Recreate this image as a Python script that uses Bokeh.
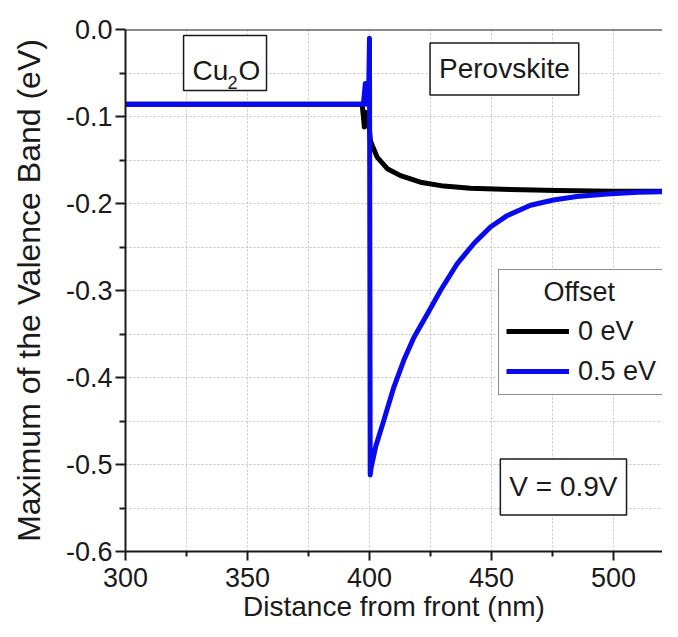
import math
from bokeh.plotting import figure
from bokeh.models import (Range1d, Legend, LegendItem, Label, BoxAnnotation, Span,
                          PrintfTickFormatter, FixedTicker)
from bokeh.embed import file_html
from bokeh.resources import INLINE

# ---- data ----
x_off0 = [300, 397, 397.5, 397.9, 398.3, 399.5, 400.4, 401.1, 403.2, 407.3, 412.7, 420.9,
          430.4, 441.4, 457.8, 476.9, 500, 527]
y_off0 = [-0.086, -0.086, -0.100, -0.112, -0.095, -0.100, -0.128, -0.133, -0.147, -0.160,
          -0.168, -0.1755, -0.180, -0.1824, -0.184, -0.185, -0.186, -0.186]

x_off05 = [300, 397.5, 398.3, 398.8, 399.6, 400, 400.3, 400.6, 402.5, 405.9, 410.0, 414.1,
           418.2, 423.7, 429.1, 436.0, 442.8, 449.6, 456.4, 466.0, 475.4, 485, 497.5, 510, 527]
y_off05 = [-0.086, -0.086, -0.062, -0.086, -0.086, -0.010, -0.512, -0.505, -0.480, -0.449,
           -0.411, -0.380, -0.354, -0.327, -0.300, -0.269, -0.246, -0.227, -0.214, -0.202,
           -0.196, -0.192, -0.189, -0.187, -0.186]

series_labels = ["0 eV", "0.5 eV"]
x_ticks = [300, 350, 400, 450, 500]
x_minor = [325, 375, 425, 475, 525]
y_ticks = [-0.6, -0.5, -0.4, -0.3, -0.2, -0.1, 0.0]
y_minor = [-0.55, -0.45, -0.35, -0.25, -0.15, -0.05]

FONT = "Liberation Sans"
TXT = "#1a1a1a"

p = figure(width=662, height=629, output_backend="svg", toolbar_location=None,
           x_range=Range1d(300, 520.1), y_range=Range1d(-0.6, 0.0),
           min_border_left=125, min_border_right=0, min_border_top=29, min_border_bottom=78)
p.outline_line_color = None
p.background_fill_color = "white"

# axes
for ax in (p.xaxis[0], p.yaxis[0]):
    ax.axis_line_width = 2
    ax.axis_line_color = "#1a1a1a"
    ax.major_tick_line_width = 2
    ax.major_tick_line_color = "#1a1a1a"
    ax.minor_tick_line_width = 2
    ax.minor_tick_line_color = "#1a1a1a"
    ax.major_tick_in = 0
    ax.minor_tick_in = 0
    ax.major_label_text_font = FONT
    ax.major_label_text_font_size = "27px"
    ax.major_label_text_color = TXT
    ax.axis_label_text_font = FONT
    ax.axis_label_text_font_style = "normal"
    ax.axis_label_text_color = TXT

p.xaxis.ticker = FixedTicker(ticks=x_ticks, minor_ticks=x_minor)
p.yaxis.ticker = FixedTicker(ticks=y_ticks, minor_ticks=y_minor)
p.yaxis.formatter = PrintfTickFormatter(format="%.1f")
p.xaxis.major_tick_out = 9
p.xaxis.minor_tick_out = 5
p.yaxis.major_tick_out = 10
p.yaxis.minor_tick_out = 6
p.xaxis.major_label_standoff = 7
p.yaxis.major_label_standoff = 3

p.xaxis.axis_label = "Distance from front (nm)"
p.xaxis.axis_label_text_font_size = "28px"
p.xaxis.axis_label_standoff = 1
p.yaxis.axis_label = "Maximum of the Valence Band (eV)"
p.yaxis.axis_label_text_font_size = "32px"
p.yaxis.axis_label_standoff = 16

# grids
for g in (p.xgrid[0], p.ygrid[0]):
    g.grid_line_color = "#c4c4c4"
    g.grid_line_dash = "2 2"
    g.grid_line_width = 1
    g.minor_grid_line_color = "#c4c4c4"
    g.minor_grid_line_dash = "2 2"
    g.minor_grid_line_width = 1

# top frame line
p.add_layout(Span(location=0.0, dimension="width", line_color="#1a1a1a", line_width=2))

# curves
r0 = p.line(x_off0, y_off0, line_color="black", line_width=5, line_join="round")
r1 = p.line(x_off05, y_off05, line_color="#0a0aee", line_width=5, line_join="round")

legend = Legend(items=[LegendItem(label=series_labels[0], renderers=[r0]),
                       LegendItem(label=series_labels[1], renderers=[r1])],
                title="\u00a0\u00a0\u00a0\u00a0\u00a0Offset", location=(373, 156))
legend.title_text_font = FONT
legend.title_text_font_size = "27px"
legend.title_text_font_style = "normal"
legend.title_text_color = TXT
legend.title_standoff = 7
legend.label_text_font = FONT
legend.label_text_font_size = "27px"
legend.label_text_color = TXT
legend.glyph_width = 63
legend.glyph_height = 32
legend.label_height = 32
legend.label_standoff = 9
legend.spacing = 8
legend.padding = 7
legend.margin = 0
legend.border_line_color = "#1a1a1a"
legend.border_line_width = 1.5
legend.background_fill_alpha = 1.0
p.add_layout(legend, "center")

# text boxes
p.add_layout(Label(x=455.3, y=-0.0454, text="Perovskite", text_align="center",
                   text_baseline="middle", text_font=FONT, text_font_size="28px", text_color=TXT,
                   border_line_color="#1a1a1a", border_line_width=1.5,
                   background_fill_color="white",
                   padding=dict(left=9, right=9, top=10, bottom=11)))
p.add_layout(Label(x=479.5, y=-0.526, text="V = 0.9V", text_align="center",
                   text_baseline="middle", text_font=FONT, text_font_size="28px", text_color=TXT,
                   border_line_color="#1a1a1a", border_line_width=1.5,
                   background_fill_color="white",
                   padding=dict(left=9, right=9, top=12, bottom=13)))

p.add_layout(BoxAnnotation(left=323.8, right=357.8, top=-0.0069, bottom=-0.0701,
                           fill_color="white", fill_alpha=1.0, line_color="#1a1a1a",
                           line_width=1.5, line_alpha=1.0))
p.add_layout(Label(x=327.5, y=-0.047, text="Cu", text_font=FONT, text_font_size="28px",
                   text_color=TXT, text_baseline="alphabetic"))
p.add_layout(Label(x=341.8, y=-0.061, text="2", text_font=FONT, text_font_size="18px",
                   text_color=TXT, text_baseline="alphabetic"))
p.add_layout(Label(x=346.3, y=-0.047, text="O", text_font=FONT, text_font_size="28px",
                   text_color=TXT, text_baseline="alphabetic"))

open("out.html", "w").write(file_html(p, INLINE))
